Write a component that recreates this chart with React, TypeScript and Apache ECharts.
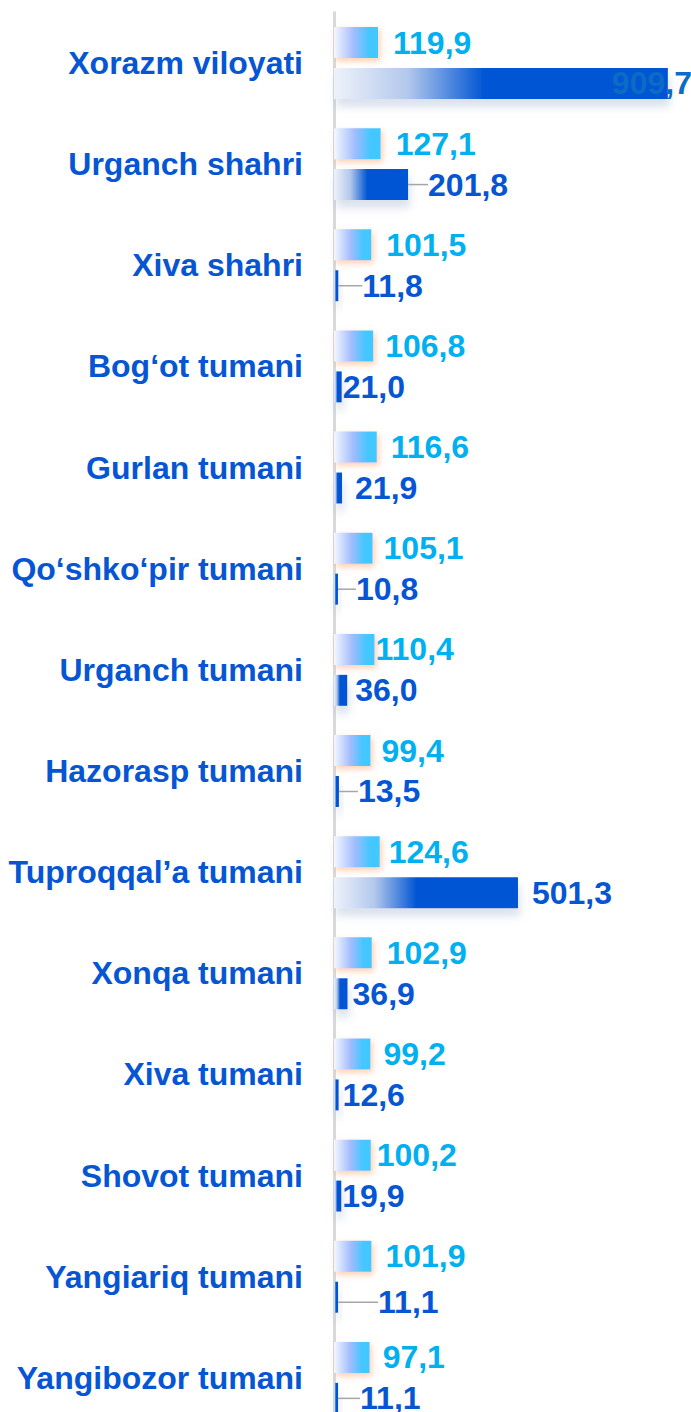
import React, { useEffect, useRef } from "react";
import * as echarts from "echarts";

const categories = [
  "Xorazm viloyati",
  "Urganch shahri",
  "Xiva shahri",
  "Bog‘ot tumani",
  "Gurlan tumani",
  "Qo‘shko‘pir tumani",
  "Urganch tumani",
  "Hazorasp tumani",
  "Tuproqqal’a tumani",
  "Xonqa tumani",
  "Xiva tumani",
  "Shovot tumani",
  "Yangiariq tumani",
  "Yangibozor tumani",
];

const lightValues = [119.9, 127.1, 101.5, 106.8, 116.6, 105.1, 110.4, 99.4, 124.6, 102.9, 99.2, 100.2, 101.9, 97.1];
const darkValues = [909.7, 201.8, 11.8, 21.0, 21.9, 10.8, 36.0, 13.5, 501.3, 36.9, 12.6, 19.9, 11.1, 11.1];

// label nudges (styling, not data)
const lightLabelGap = [15, 15, 15, 12, 14, 11, 1, 11, 9, 15, 13, 6, 14, 13];
const darkLabelGap = [-56, 20, 24, 1, 13, 18, 8, 19, 14, 5, 4, 1, 40, 22];
const darkLabelDy = [0, 0, 0, 0, 0, 0, 0, 0, 0, 0, 0, 0, 5, 0];
const leaderLineRows = [1, 2, 5, 7, 12, 13];

const FONT = "'Liberation Sans', Arial, sans-serif";
const FS = 32;
const fmt = (v: number) => v.toFixed(1).replace(".", ",");

export default function App() {
  const ref = useRef<HTMLDivElement>(null);
  useEffect(() => {
    if (!ref.current) return;
    const chart = echarts.init(ref.current, null, { renderer: "svg" });
    const LEADER_PAD = 9;
    const darkData = darkValues.map((v, i) => {
      const item: any = { value: v };
      if (leaderLineRows.includes(i)) {
        item.labelLine = { show: true };
        item.label = { padding: [0, 0, 0, LEADER_PAD] };
      }
      if (i === 0) {
        item.label = { color: "#0A6CC4" };
      }
      return item;
    });
    chart.setOption({
      animation: false,
      grid: {
        left: 334,
        right: -10,
        top: 12.4,
        bottom: 0.5,
        containLabel: false,
        outerBoundsMode: "none",
      },
      xAxis: {
        type: "value",
        min: 0,
        max: 1000,
        show: false,
        splitLine: { show: false },
      },
      yAxis: {
        type: "category",
        data: categories,
        inverse: true,
        offset: 3,
        axisTick: { show: false },
        axisLine: { show: true, lineStyle: { color: "#d9d9d9", width: 3 } },
        axisLabel: {
          margin: 28,
          color: "#0656D4",
          fontSize: FS,
          fontWeight: "bold",
          fontFamily: FONT,
        },
        splitLine: { show: false },
      },
      series: [
        {
          type: "bar",
          data: lightValues,
          barWidth: 31,
          barGap: "32%",
          itemStyle: {
            color: new echarts.graphic.LinearGradient(0, 0, 1, 0, [
              { offset: 0, color: "#f3f7ff" },
              { offset: 0.45, color: "#a2bcfd" },
              { offset: 0.78, color: "#45c6ff" },
              { offset: 1, color: "#40c8ff" },
            ]),
            shadowColor: "rgba(250,165,110,0.55)",
            shadowBlur: 6,
            shadowOffsetX: 2,
            shadowOffsetY: 3,
          },
          label: {
            show: true,
            position: "right",
            distance: 0,
            color: "#00B0F0",
            fontSize: FS,
            fontWeight: "bold",
            fontFamily: FONT,
            formatter: (p: any) => fmt(p.value),
          },
          labelLayout: (p: any) => ({ dx: lightLabelGap[p.dataIndex] }),
        },
        {
          type: "bar",
          data: darkData,
          barWidth: 31,
          itemStyle: {
            color: new echarts.graphic.LinearGradient(0, 0, 1, 0, [
              { offset: 0, color: "#eef2fa" },
              { offset: 0.22, color: "#b3c8ec" },
              { offset: 0.45, color: "#0055d4" },
              { offset: 1, color: "#0055d4" },
            ]),
            shadowColor: "rgba(150,170,205,0.35)",
            shadowBlur: 8,
            shadowOffsetX: 2,
            shadowOffsetY: 8,
          },
          label: {
            show: true,
            position: "right",
            distance: 0,
            color: "#0656D4",
            fontSize: FS,
            fontWeight: "bold",
            fontFamily: FONT,
            formatter: (p: any) => fmt(p.value),
          },
          labelLine: {
            show: false,
            lineStyle: { color: "#a6a6a6", width: 1.5 },
          },
          labelLayout: (p: any) => {
            const i = p.dataIndex;
            const pad = leaderLineRows.includes(i) ? LEADER_PAD : 0;
            return { dx: darkLabelGap[i] - pad, dy: darkLabelDy[i] };
          },
        },
      ],
    });
    return () => chart.dispose();
  }, []);
  return (
    <div
      style={{
        position: "absolute",
        left: 0,
        top: 0,
        width: 691,
        height: 1412,
        overflow: "hidden",
      }}
    >
      <div ref={ref} style={{ width: 691, height: 1429 }} />
    </div>
  );
}
